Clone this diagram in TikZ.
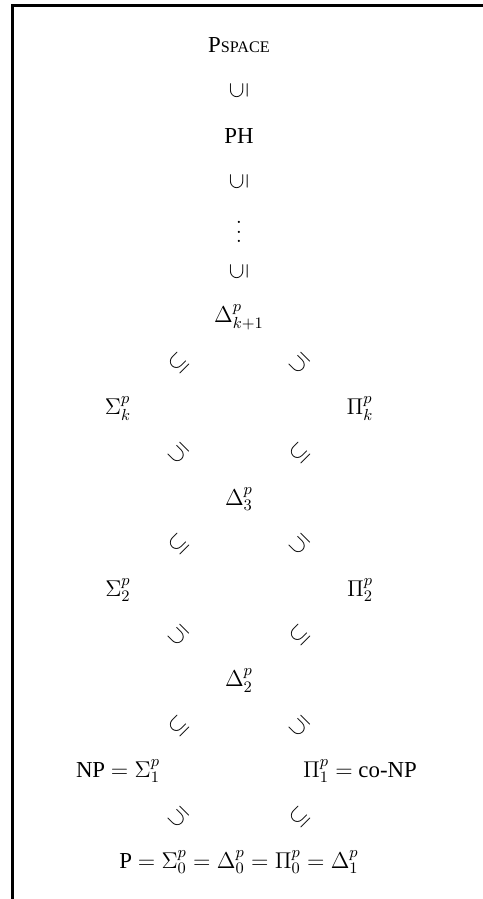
\RequirePackage{fix-cm}
\documentclass[tikz,border=0pt]{standalone}
\usepackage[no-math]{fontspec}
\setmainfont{Liberation Serif}
\usetikzlibrary{calc}

\newcommand{\fakesc}[2]{#1{\fontsize{9.2}{11}\selectfont #2}}
\newcommand{\tallvdots}{\vbox{\baselineskip5.3pt\lineskiplimit0pt
  \hbox{$.$}\hbox{$.$}\hbox{$.$}}}

\begin{document}
\begin{tikzpicture}[x=1.21cm, y=0.908cm,
    every node/.style={font=\fontsize{13}{16}\selectfont},
    incl/.style={inner sep=0pt}]
  \useasboundingbox (-3.95,0.991) rectangle (4.033,-18.81);
  \draw[line width=1.6pt] (-3.744,-19) -- (-3.744,0.87) -- (4.2,0.87);
  % the chain on top
  \node (pspace) at (0,0) {\fakesc{P}{SPACE}};
  \node (ph) at (0,-2) {PH};
  \node[inner sep=0pt] (dots) at (0,-4.12) {\tallvdots};
  \node (dk) at (0,-6) {$\Delta^p_{k+1}$};
  % the hierarchy
  \node (sk) at (-2,-8) {$\Sigma^p_k$};
  \node (pk) at (2,-8) {$\Pi^p_k$};
  \node (d3) at (0,-10) {$\Delta^p_3$};
  \node (s2) at (-2,-12) {$\Sigma^p_2$};
  \node (p2) at (2,-12) {$\Pi^p_2$};
  \node (d2) at (0,-14) {$\Delta^p_2$};
  \node (np) at (-2,-16) {NP $= \Sigma^p_1$};
  \node (conp) at (2,-16) {$\Pi^p_1 =$ co-NP};
  \node (p) at (0,-18) {P $= \Sigma^p_0 = \Delta^p_0 = \Pi^p_0 = \Delta^p_1$};
  % inclusions
  \node[incl, rotate=90] (in-ph-pspace) at ($(ph)!0.5!(pspace)$) {$\subseteq$};
  \node[incl, rotate=90] (in-dots-ph) at ($(dk)!0.75!(ph)$) {$\subseteq$};
  \node[incl, rotate=90] (in-dk-dots) at ($(dk)!0.25!(ph)$) {$\subseteq$};
  \foreach \a/\b/\r in {sk/dk/45, pk/dk/135, d3/sk/135, d3/pk/45,
      s2/d3/45, p2/d3/135, d2/s2/135, d2/p2/45,
      np/d2/45, conp/d2/135, p/np/135, p/conp/45} {
    \node[incl, rotate=\r] (in-\a-\b) at ($(\a)!0.5!(\b)$) {$\subseteq$};
  }
\end{tikzpicture}
\end{document}
